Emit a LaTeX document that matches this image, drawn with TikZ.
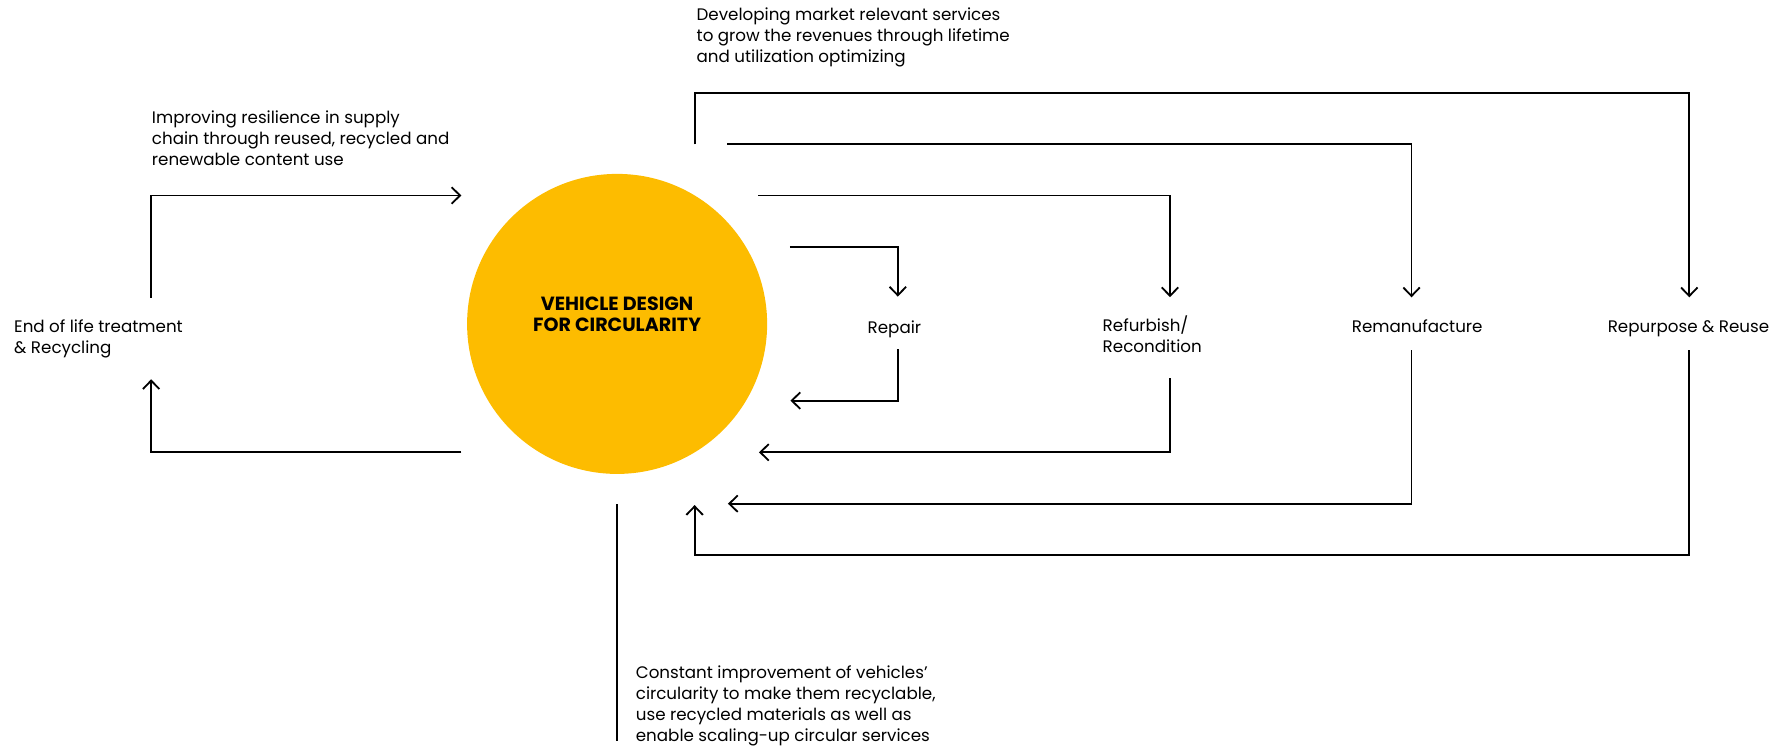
\documentclass[tikz,border=0pt]{standalone}
\usepackage{fontspec}
\setmainfont{Poppins}
\usetikzlibrary{arrows.meta}
\definecolor{coreyellow}{HTML}{FDBC00}
\begin{document}
\begin{tikzpicture}[x=1pt,y=-1pt,
  line width=1.6pt,
  flow/.style={-{Straight Barb[length=7.5pt,width=14.5pt]}},
  plain/.style={},
  lbl/.style={inner sep=0pt,font=\fontsize{14.7pt}{18.4pt}\selectfont},
  mlbl/.style={lbl,align=left,anchor=base west},
  core/.style={circle,fill=coreyellow,minimum size=264pt,inner sep=0pt},
  coretext/.style={inner sep=0pt,align=center,anchor=base,
    font=\fontsize{16.8pt}{19.1pt}\selectfont\bfseries}]
\useasboundingbox (0,0) rectangle (1568,657);

% central circle
\node[core] (core) at (543,285) {};
\node[coretext] (coretxt) at (543,291.9) {VEHICLE DESIGN\\FOR CIRCULARITY};

% labels (anchor = baseline of the last line)
\node[mlbl] (eol) at (11.7,310.9) {End of life treatment\\\& Recycling};
\node[mlbl] (improve) at (132.9,145.2) {Improving resilience in supply\\chain through reused, recycled and\\renewable content use};
\node[mlbl] (develop) at (612.2,55.2) {Developing market relevant services\\to grow the revenues through lifetime\\and utilization optimizing};
\node[mlbl] (constant) at (558.7,652.6) {Constant improvement of vehicles’\\circularity to make them recyclable,\\use recycled materials as well as\\enable scaling-up circular services};
\node[lbl,anchor=base] (repair) at (787,293.3) {Repair};
\node[mlbl] (refurb) at (969.5,310.3) {Refurbish/\\Recondition};
\node[lbl,anchor=base] (reman) at (1247,292.7) {Remanufacture};
\node[lbl,anchor=base] (repurp) at (1485.7,292.7) {Repurpose \& Reuse};

% connector end points
\coordinate (e1) at (133,262);
\coordinate (e2) at (406,172);
\coordinate (e3) at (406,398);
\coordinate (e4) at (133,333.7);
\coordinate (r1) at (695,217);
\coordinate (r2) at (790,261);
\coordinate (r3) at (790,307.5);
\coordinate (r4) at (695.5,352.5);
\coordinate (f1) at (667,172);
\coordinate (f2) at (1029.5,261.5);
\coordinate (f3) at (1029.5,333);
\coordinate (f4) at (667.8,398);
\coordinate (m1) at (639.7,127);
\coordinate (m2) at (1242,261.6);
\coordinate (m3) at (1242,308);
\coordinate (m4) at (640.5,443.2);
\coordinate (p0) at (611.5,127);
\coordinate (pTop) at (1486.4,81.5);
\coordinate (p2) at (1486.4,261.6);
\coordinate (p3) at (1486.4,308);
\coordinate (pBot) at (611.2,488.5);
\coordinate (p4) at (611.2,444.4);
\coordinate (v1) at (543.2,443.5);
\coordinate (v2) at (543.2,652);

% connectors
\draw[flow] (e1) |- (e2);
\draw[flow] (e3) -| (e4);
\draw[flow] (r1) -| (r2);
\draw[flow] (r3) |- (r4);
\draw[flow] (f1) -| (f2);
\draw[flow] (f3) |- (f4);
\draw[flow] (m1) -| (m2);
\draw[flow] (m3) |- (m4);
\draw[flow] (p0) |- (pTop) -- (p2);
\draw[flow] (p3) |- (pBot) -- (p4);
\draw[plain] (v1) -- (v2);
\end{tikzpicture}
\end{document}
